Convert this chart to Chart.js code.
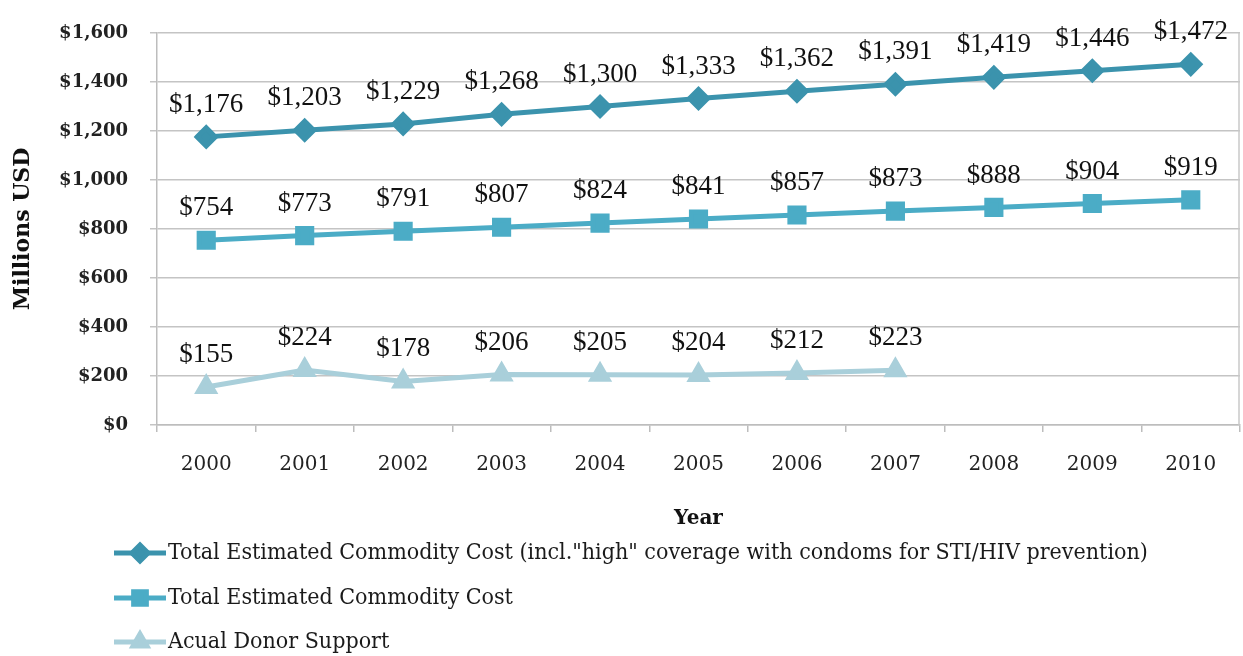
<!DOCTYPE html>
<html>
<head>
<meta charset="utf-8">
<script src="https://cdn.jsdelivr.net/npm/chart.js@4.4.0/dist/chart.umd.min.js"></script>
<style>
  html, body { margin: 0; padding: 0; background: #fff; }
  #wrap { width: 1243px; height: 656px; }
</style>
</head>
<body>
<div id="wrap"><canvas id="chart" width="1243" height="656"></canvas></div>
<script>
const years = ["2000", "2001", "2002", "2003", "2004", "2005", "2006", "2007", "2008", "2009", "2010"];
const highCoverage = [1176, 1203, 1229, 1268, 1300, 1333, 1362, 1391, 1419, 1446, 1472];
const commodityCost = [754, 773, 791, 807, 824, 841, 857, 873, 888, 904, 919];
const donorSupport = [155, 224, 178, 206, 205, 204, 212, 223, null, null, null];
const seriesNames = [
  'Total Estimated Commodity Cost (incl."high" coverage with condoms for STI/HIV prevention)',
  "Total Estimated Commodity Cost",
  "Acual Donor Support",
];

const serif = "'DejaVu Serif', serif";
const fmt = (v) => "$" + v.toLocaleString("en-US");

// value labels above every point
const pointLabels = {
  id: "pointLabels",
  afterDatasetsDraw(chart) {
    const ctx = chart.ctx;
    ctx.save();
    ctx.font = "27px 'Liberation Serif', serif";
    ctx.fillStyle = "#111";
    ctx.textAlign = "center";
    ctx.textBaseline = "middle";
    chart.data.datasets.forEach((ds, i) => {
      chart.getDatasetMeta(i).data.forEach((pt, j) => {
        const v = ds.data[j];
        if (v == null) return;
        ctx.fillText(fmt(v), pt.x, pt.y - 32);
      });
    });
    ctx.restore();
  },
};

// right frame line + stacked legend underneath
const frameAndLegend = {
  id: "frameAndLegend",
  afterDraw(chart) {
    const ctx = chart.ctx;
    const a = chart.chartArea;
    ctx.save();
    ctx.strokeStyle = "#c8c8c8";
    ctx.lineWidth = 1.5;
    ctx.beginPath();
    ctx.moveTo(a.right - 1, a.top);
    ctx.lineTo(a.right - 1, a.bottom);
    ctx.stroke();

    const rows = [553, 598, 642];
    const sizes = [8, 9, 8];
    chart.data.datasets.forEach((ds, i) => {
      const y = rows[i];
      ctx.strokeStyle = ds.borderColor;
      ctx.lineWidth = 5;
      ctx.beginPath();
      ctx.moveTo(114, y);
      ctx.lineTo(166, y);
      ctx.stroke();
      ctx.fillStyle = ds.pointBackgroundColor;
      ctx.strokeStyle = ds.pointBackgroundColor;
      Chart.helpers.drawPoint(ctx, { pointStyle: ds.pointStyle, radius: sizes[i], borderWidth: 1 }, 140, y);
      ctx.fillStyle = "#1a1a1a";
      ctx.font = "23px 'DejaVu Serif Condensed', 'DejaVu Serif', serif";
      ctx.textAlign = "left";
      ctx.textBaseline = "middle";
      ctx.fillText(ds.label, 168, y);
    });
    ctx.restore();
  },
};

new Chart(document.getElementById("chart"), {
  type: "line",
  data: {
    labels: years,
    datasets: [
      {
        label: seriesNames[0],
        data: highCoverage,
        borderColor: "#3b93ad",
        pointBackgroundColor: "#3b93ad",
        pointBorderColor: "#3b93ad",
        pointStyle: "rectRot",
        pointRadius: 9,
        borderWidth: 5,
      },
      {
        label: seriesNames[1],
        data: commodityCost,
        borderColor: "#4bacc6",
        pointBackgroundColor: "#4bacc6",
        pointBorderColor: "#4bacc6",
        pointStyle: "rect",
        pointRadius: 10,
        borderWidth: 5,
      },
      {
        label: seriesNames[2],
        data: donorSupport,
        borderColor: "#a9cfda",
        pointBackgroundColor: "#a9cfda",
        pointBorderColor: "#a9cfda",
        pointStyle: "triangle",
        pointRadius: 9,
        borderWidth: 5,
      },
    ],
  },
  options: {
    responsive: false,
    animation: false,
    layout: { autoPadding: false, padding: { top: 33, right: 3, bottom: 121, left: 0 } },
    scales: {
      x: {
        offset: true,
        grid: { display: true, drawOnChartArea: false, drawTicks: true, tickLength: 7, color: "#bdbdbd", lineWidth: 1.5, offset: true },
        border: { display: true, color: "#bdbdbd", width: 1.5 },
        ticks: { color: "#222", font: { family: serif, size: 20 }, padding: 21 },
        title: { display: true, text: "Year", color: "#111", font: { family: serif, size: 20, weight: "bold" }, padding: { top: 12 } },
        afterFit(scale) {
          scale.height = 110;
          scale.paddingLeft = 0;
          scale.paddingRight = 0;
        },
      },
      y: {
        min: 0,
        max: 1600,
        ticks: { stepSize: 200, color: "#222", font: { family: serif, size: 18, weight: "bold" }, padding: 22, callback: (v) => fmt(v) },
        grid: { color: "#c4c4c4", lineWidth: 1.5, tickLength: 7 },
        border: { display: true, color: "#bdbdbd", width: 1.5 },
        title: { display: true, text: "Millions USD", color: "#111", font: { family: serif, size: 22, weight: "bold" }, padding: { top: 10, bottom: 0 } },
        afterFit(scale) { scale.width = 157; },
      },
    },
    plugins: {
      legend: { display: false },
      tooltip: { enabled: false },
    },
  },
  plugins: [pointLabels, frameAndLegend],
});
</script>
</body>
</html>
